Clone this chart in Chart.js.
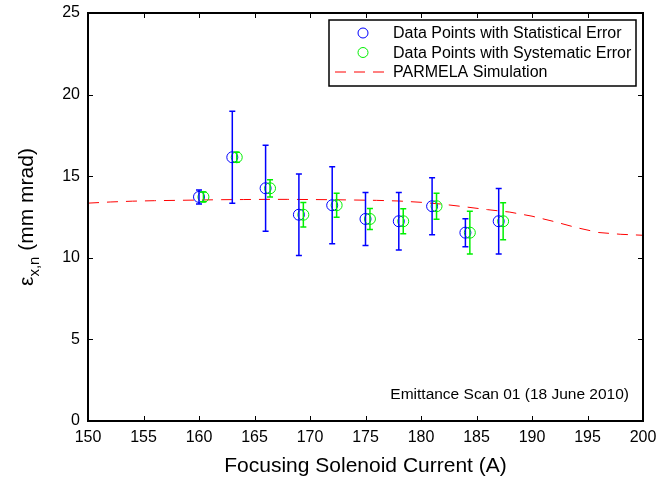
<!doctype html>
<html lang="en">
<head>
<meta charset="utf-8">
<title>Emittance Scan 01</title>
<script src="https://cdn.jsdelivr.net/npm/chart.js"></script>
<style>
  html, body { margin: 0; padding: 0; background: #fff; }
  #wrap { width: 657px; height: 481px; }
</style>
</head>
<body>
<div id="wrap"><canvas id="scan" width="657" height="481"></canvas></div>
<script>
// measured points (A, mm mrad)
const current = [160, 163, 166, 169, 172, 175, 178, 181, 184, 187];
const currentSys = [160.4, 163.4, 166.4, 169.4, 172.4, 175.4, 178.4, 181.4, 184.4, 187.4];
const emittance = [13.73, 16.16, 14.26, 12.64, 13.22, 12.38, 12.24, 13.16, 11.54, 12.24];
const statErr = [0.43, 2.82, 2.63, 2.5, 2.36, 1.62, 1.76, 1.74, 0.86, 2.01];
const sysErr = [0.3, 0.3, 0.53, 0.75, 0.73, 0.64, 0.77, 0.8, 1.31, 1.13];

// PARMELA curve
const simCurrent = [150, 152, 154, 156, 158, 160, 162, 164, 166, 168, 170, 172, 174,
  176, 178, 180, 182, 184, 186, 188, 190, 192, 194, 196, 198, 200];
const simEmittance = [13.35, 13.42, 13.47, 13.5, 13.52, 13.54, 13.56, 13.57, 13.58, 13.58, 13.57, 13.56, 13.54,
  13.52, 13.48, 13.4, 13.28, 13.12, 12.95, 12.8, 12.55, 12.22, 11.85, 11.55, 11.44, 11.38];

const font = '"Liberation Sans", Arial, Helvetica, sans-serif';
const note = 'Emittance Scan 01 (18 June 2010)';
const blue = 'rgb(0,0,255)', green = 'rgb(0,240,0)', red = 'rgb(255,0,0)';

const toXY = (xs, ys) => xs.map((x, i) => ({ x: x, y: ys[i] }));

// error bars for the two measured series
const errorBars = {
  id: 'errorBars',
  afterDatasetsDraw(chart) {
    const ctx = chart.ctx;
    const xs = chart.scales.x, ys = chart.scales.y;
    const sets = [[current, statErr, blue], [currentSys, sysErr, green]];
    ctx.save();
    ctx.lineWidth = 1.5;
    sets.forEach(([xv, err, col]) => {
      ctx.strokeStyle = col;
      xv.forEach((x, i) => {
        const px = xs.getPixelForValue(x);
        const top = ys.getPixelForValue(emittance[i] + err[i]);
        const bot = ys.getPixelForValue(emittance[i] - err[i]);
        ctx.beginPath();
        ctx.moveTo(px, top); ctx.lineTo(px, bot);
        ctx.moveTo(px - 3, top); ctx.lineTo(px + 3, top);
        ctx.moveTo(px - 3, bot); ctx.lineTo(px + 3, bot);
        ctx.stroke();
      });
    });
    ctx.restore();
  }
};

// matlab style box, inward ticks, legend, note and y title
const frame = {
  id: 'frame',
  afterDraw(chart) {
    const ctx = chart.ctx;
    const a = chart.chartArea;
    const xs = chart.scales.x, ys = chart.scales.y;
    ctx.save();
    ctx.strokeStyle = '#000';
    ctx.lineWidth = 1;
    ctx.beginPath();
    xs.ticks.forEach(t => {
      const p = Math.round(xs.getPixelForValue(t.value)) + 0.5;
      ctx.moveTo(p, a.bottom); ctx.lineTo(p, a.bottom - 5);
      ctx.moveTo(p, a.top); ctx.lineTo(p, a.top + 5);
    });
    ys.ticks.forEach(t => {
      const p = Math.round(ys.getPixelForValue(t.value)) + 0.5;
      ctx.moveTo(a.left, p); ctx.lineTo(a.left + 5, p);
      ctx.moveTo(a.right, p); ctx.lineTo(a.right - 5, p);
    });
    ctx.stroke();
    ctx.lineWidth = 2;
    ctx.strokeRect(a.left, a.top, a.right - a.left, a.bottom - a.top);

    // legend
    const lx = 329, ly = a.top + 7, lw = a.right - 7 - lx, lh = 66;
    ctx.fillStyle = '#fff';
    ctx.fillRect(lx, ly, lw, lh);
    ctx.lineWidth = 1.5;
    ctx.strokeRect(lx, ly, lw, lh);
    ctx.font = '16px ' + font;
    ctx.textBaseline = 'middle';
    chart.data.datasets.forEach((ds, i) => {
      const y = ly + 13 + i * 19.5;
      ctx.strokeStyle = ds.borderColor;
      ctx.lineWidth = 1;
      ctx.beginPath();
      if (ds.showLine) {
        ctx.setLineDash(ds.borderDash);
        ctx.moveTo(lx + 6, y); ctx.lineTo(lx + 56, y);
      } else {
        ctx.arc(lx + 34, y, 5, 0, Math.PI * 2);
      }
      ctx.stroke();
      ctx.setLineDash([]);
      ctx.fillStyle = '#000';
      ctx.textAlign = 'left';
      ctx.fillText(ds.label, lx + 64, y + 1);
    });

    // note
    ctx.font = '15.5px ' + font;
    ctx.textAlign = 'right';
    ctx.textBaseline = 'alphabetic';
    ctx.fillText(note, a.right - 14, a.bottom - 22);

    // y title with subscript
    ctx.translate(33, (a.top + a.bottom) / 2);
    ctx.rotate(-Math.PI / 2);
    const big = '21px ' + font, small = '15px ' + font;
    ctx.font = big;
    const w1 = ctx.measureText('\u03b5').width;
    const w3 = ctx.measureText(' (mm mrad)').width;
    ctx.font = small;
    const w2 = ctx.measureText('x,n').width;
    let x0 = -(w1 + w2 + w3) / 2;
    ctx.textAlign = 'left';
    ctx.font = big;
    ctx.fillText('\u03b5', x0, 0);
    ctx.font = small;
    ctx.fillText('x,n', x0 + w1, 6);
    ctx.font = big;
    ctx.fillText(' (mm mrad)', x0 + w1 + w2, 0);
    ctx.restore();
  }
};

new Chart(document.getElementById('scan'), {
  type: 'scatter',
  data: {
    datasets: [
      {
        label: 'Data Points with Statistical Error',
        data: toXY(current, emittance),
        borderColor: blue,
        backgroundColor: 'rgba(0,0,0,0)',
        pointRadius: 5.5,
        borderWidth: 1,
        order: 1
      },
      {
        label: 'Data Points with Systematic Error',
        data: toXY(currentSys, emittance),
        borderColor: green,
        backgroundColor: 'rgba(0,0,0,0)',
        pointRadius: 5.5,
        borderWidth: 1,
        order: 0
      },
      {
        label: 'PARMELA Simulation',
        data: toXY(simCurrent, simEmittance),
        showLine: true,
        borderColor: red,
        borderDash: [11, 8],
        borderWidth: 1,
        pointRadius: 0,
        tension: 0,
        order: 2
      }
    ]
  },
  options: {
    responsive: false,
    animation: false,
    devicePixelRatio: 1,
    layout: { padding: { top: 13, right: 14, left: 0, bottom: 0 } },
    plugins: {
      legend: { display: false },
      tooltip: { enabled: false }
    },
    scales: {
      x: {
        type: 'linear',
        min: 150,
        max: 200,
        ticks: { stepSize: 5, color: '#000', font: { family: font, size: 16 }, padding: 7, maxRotation: 0 },
        grid: { display: false, drawTicks: false },
        border: { display: false },
        title: {
          display: true,
          text: 'Focusing Solenoid Current (A)',
          color: '#000',
          font: { family: font, size: 21 },
          padding: { top: 2, bottom: 2 }
        },
        afterFit: s => { s.height = 60; s.paddingLeft = 0; s.paddingRight = 0; }
      },
      y: {
        min: 0,
        max: 25,
        ticks: { stepSize: 5, color: '#000', font: { family: font, size: 16 }, padding: 8 },
        grid: { display: false, drawTicks: false },
        border: { display: false },
        afterFit: s => { s.width = 88; s.paddingTop = 0; s.paddingBottom = 0; }
      }
    }
  },
  plugins: [errorBars, frame]
});
</script>
</body>
</html>
